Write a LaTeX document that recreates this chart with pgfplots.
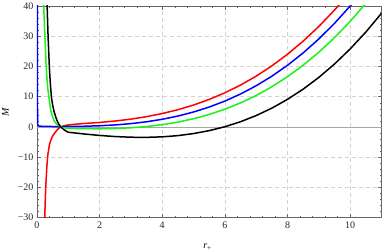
\documentclass[border=0pt]{standalone}
\usepackage{pgfplots}
\pgfplotsset{compat=1.18}
\usepackage{fontspec}
\setmainfont{Liberation Serif}
\usetikzlibrary{calc}
\definecolor{mgreen}{rgb}{0.1,0.95,0.1}
\begin{document}
\fontsize{10}{12}\selectfont
\begin{tikzpicture}
\begin{axis}[
  scale only axis,
  width=345pt, height=212pt,
  xmin=0, xmax=11, ymin=-30, ymax=40,
  xtick={0,2,4,6,8,10},
  xticklabels={0,2,4,6,8,10},
  ytick={-30,-20,-10,0,10,20,30,40},
  yticklabels={−30,−20,−10,0,10,20,30,40},
  minor x tick num=4, minor y tick num=4,
  tick align=inside,
  major tick length=4pt, minor tick length=2pt,
  every tick/.style={gray!80!black, line width=0.5pt},
  axis line style={gray!80!black, line width=0.6pt},
  grid=major,
  major grid style={gray!35, dash pattern=on 4pt off 3pt, line width=0.6pt},
  tick label style={font=\fontsize{10}{12}\selectfont, text=black!85},
  xticklabel style={yshift=-1pt},
  /pgf/number format/assume math mode=true,
  xlabel={\textit{r}\textsubscript{+}},
  ylabel={\textit{M}},
  xlabel style={at={(axis description cs:0.495,-0.14)}, anchor=center, font=\fontsize{10}{12}\selectfont},
  ylabel style={at={(axis description cs:-0.092,0.5)}, anchor=center, font=\fontsize{10}{12}\selectfont},
  every axis plot/.append style={line width=1.5pt, no markers, line join=round},
]
\coordinate (sw) at (rel axis cs:0,0);
\coordinate (ne) at (rel axis cs:1,1);
\draw[gray!70, line width=0.6pt] (axis cs:0,0) -- (axis cs:11,0);

% red
\addplot[red] coordinates {
(0.247,-30.5)(0.26,-26)(0.28,-20)(0.30,-16)(0.32,-12.5)(0.35,-9)(0.40,-5.8)(0.45,-4.2)(0.50,-3.0)(0.55,-2.2)(0.60,-1.6)(0.65,-0.9)(0.70,-0.4)(0.76,0)(0.85,0.35)(1.0,0.7)(1.5,1.15)(2,1.50)(2.5,1.97)(3,2.60)(3.5,3.41)(4,4.44)(4.5,5.71)(5,7.25)(5.5,9.11)(6,11.30)(6.5,13.86)(7,16.81)(7.5,20.20)(8,24.05)(8.5,28.39)(9,33.24)(9.5,38.65)(9.75,41.58)
};
% blue
\addplot[blue] coordinates {
(0.012,41)(0.014,20)(0.016,8)(0.019,3)(0.023,1.2)(0.03,0.6)(0.05,0.35)(0.1,0.25)(0.3,0.2)(0.5,0.15)(0.76,0.1)(1.0,0.17)(1.5,0.24)(2,0.40)(2.5,0.68)(3,1.11)(3.5,1.72)(4,2.54)(4.5,3.61)(5,4.95)(5.5,6.59)(6,8.56)(6.5,10.90)(7,13.63)(7.5,16.79)(8,20.40)(8.5,24.50)(9,29.11)(9.5,34.27)(10,40.0)(10.2,42.46)
};
% green
\addplot[mgreen] coordinates {
(0.212,41)(0.23,36)(0.25,31)(0.27,26)(0.29,21)(0.32,16)(0.35,12.5)(0.38,10)(0.44,5.5)(0.50,3.3)(0.55,2.0)(0.62,1.0)(0.70,0.4)(0.76,0.0)(0.85,-0.25)(1.0,-0.46)(1.5,-0.57)(2,-0.60)(2.5,-0.51)(3,-0.27)(3.5,0.14)(4,0.76)(4.5,1.61)(5,2.73)(5.5,4.14)(6,5.88)(6.5,7.96)(7,10.43)(7.5,13.31)(8,16.63)(8.5,20.43)(9,24.72)(9.5,29.53)(10,34.91)(10.5,40.88)
};
% black
\addplot[black] coordinates {
(0.322,41)(0.34,35)(0.355,30)(0.375,25)(0.395,20)(0.42,15.5)(0.46,10)(0.50,7.3)(0.55,5)(0.60,3.3)(0.65,1.9)(0.70,0.9)(0.76,0)(0.85,-0.8)(0.92,-1.3)(1.0,-1.74)(1.5,-2.31)(2,-2.80)(2.5,-3.17)(3,-3.39)(3.5,-3.43)(4,-3.26)(4.5,-2.86)(5,-2.18)(5.5,-1.21)(6,0.08)(6.5,1.74)(7,3.78)(7.5,6.23)(8,9.14)(8.5,12.52)(9,16.40)(9.5,20.82)(10,25.81)(10.5,31.38)(11,37.59)
};
\end{axis}
\pgfresetboundingbox
\path ($(sw)+(-37pt,-33pt)$) rectangle ($(ne)+(0.5pt,6pt)$);
\end{tikzpicture}
\end{document}
